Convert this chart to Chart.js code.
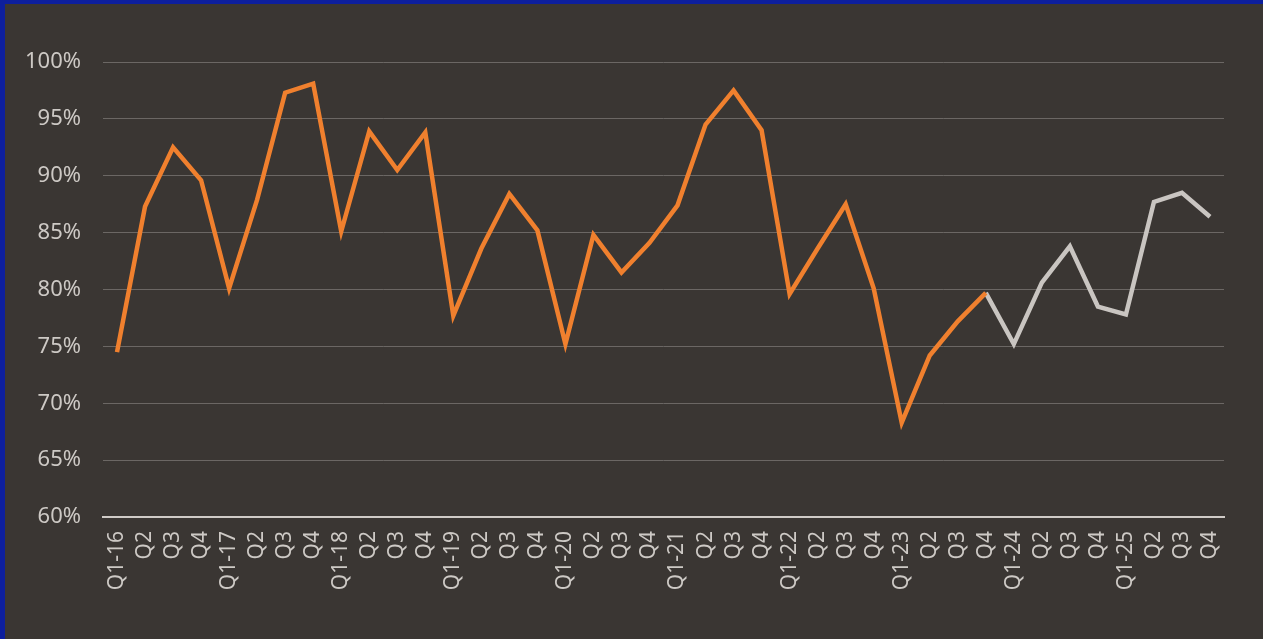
<!DOCTYPE html>
<html>
<head>
<meta charset="utf-8">
<script src="https://cdn.jsdelivr.net/npm/chart.js@4/dist/chart.umd.min.js"></script>
<style>
    html, body {margin: 0; padding: 0; background: #3a3633;}
    body {width: 1263px; height: 639px; overflow: hidden; box-sizing: border-box;
          border-top: 4px solid #0d1f9e; border-left: 5px solid #0d1f9e;}
    #box {width: 1258px; height: 635px; position: relative;}
</style>
</head>
<body>
<div id="box"><canvas id="chart-ocupacao"></canvas></div>
<script>
// trimestres
var labels = [
    'Q1-16', 'Q2', 'Q3', 'Q4',
    'Q1-17', 'Q2', 'Q3', 'Q4',
    'Q1-18', 'Q2', 'Q3', 'Q4',
    'Q1-19', 'Q2', 'Q3', 'Q4',
    'Q1-20', 'Q2', 'Q3', 'Q4',
    'Q1-21', 'Q2', 'Q3', 'Q4',
    'Q1-22', 'Q2', 'Q3', 'Q4',
    'Q1-23', 'Q2', 'Q3', 'Q4',
    'Q1-24', 'Q2', 'Q3', 'Q4',
    'Q1-25', 'Q2', 'Q3', 'Q4'
];

// historico (laranja) ate Q4-23
var historico = [
    74.5, 87.3, 92.5, 89.6,
    80.1, 87.9, 97.3, 98.1,
    85.1, 93.9, 90.5, 93.8,
    77.7, 83.6, 88.4, 85.2,
    75.2, 84.8, 81.5, 84.1,
    87.4, 94.5, 97.5, 94.0,
    79.6, 83.6, 87.5, 80.1,
    68.3, 74.2, 77.2, 79.7
];

// projecao (cinza) a partir de Q4-23
var projecao = [79.7, 75.2, 80.6, 83.8, 78.5, 77.8, 87.7, 88.5, 86.4];

var yTicks = [60, 65, 70, 75, 80, 85, 90, 95, 100];

var corTexto = '#cdc9c5';

// monta a serie de projecao alinhada com os labels
var dadosProjecao = [];
for (var i = 0; i < labels.length; i++) {
    var j = i - (historico.length - 1);
    dadosProjecao.push(j >= 0 ? projecao[j] : null);
}

var ctx = document.getElementById('chart-ocupacao').getContext('2d');
var data = {
    labels: labels,
    datasets: [{
            label: 'Histórico',
            data: historico,
            borderColor: '#f0802e',
            borderWidth: 4.5,
            pointRadius: 0,
            tension: 0,
            order: 1
        }, {
            label: 'Projeção',
            data: dadosProjecao,
            borderColor: '#c9c5c1',
            borderWidth: 4.5,
            pointRadius: 0,
            tension: 0,
            order: 2
        }]
};
const config = {
    type: 'line',
    data,
    options: {
        responsive: true,
        maintainAspectRatio: false,
        animation: false,
        layout: {padding: {top: 58, right: 39, bottom: 0, left: 0}},
        plugins: {
            legend: {display: false},
            tooltip: {enabled: false}
        },
        scales: {
            x: {
                offset: true,
                grid: {display: false, drawTicks: false},
                border: {display: true, color: '#cfcbc7', width: 2},
                ticks: {
                    color: corTexto,
                    font: {family: 'Noto Sans', size: 21},
                    minRotation: 90,
                    maxRotation: 90,
                    autoSkip: false,
                    padding: 14
                },
                afterFit: function (scale) {
                    scale.height = 122;
                }
            },
            y: {
                min: 60,
                max: 100,
                afterBuildTicks: function (scale) {
                    scale.ticks = yTicks.map(function (v) { return {value: v}; });
                },
                grid: {color: '#6b6764', lineWidth: 1, drawTicks: false},
                border: {display: false},
                ticks: {
                    color: corTexto,
                    font: {family: 'Noto Sans', size: 22},
                    padding: 22,
                    callback: function (value) {
                        return value + '%';
                    }
                },
                afterFit: function (scale) {
                    scale.width = 98;
                }
            }
        }
    }
};
var myChart = new Chart(ctx, config);
</script>
</body>
</html>
